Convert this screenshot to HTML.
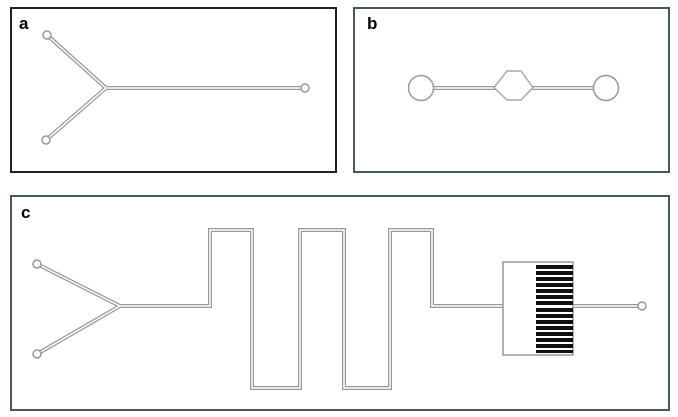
<!DOCTYPE html><html><head><style>body{margin:0;background:#fff}svg{display:block}text{font-family:"Liberation Sans",sans-serif;font-weight:bold;font-size:17px}</style></head><body>
<svg width="678" height="417" viewBox="0 0 678 417">
<rect x="11" y="8" width="325" height="164" fill="none" stroke="#222" stroke-width="2"/>
<rect x="354" y="8" width="315" height="164" fill="none" stroke="#4a5566" stroke-width="2"/>
<rect x="11" y="196" width="658" height="214" fill="none" stroke="#4a5566" stroke-width="2"/>
<text x="19" y="29">a</text><text x="367" y="29">b</text><text x="21" y="218">c</text>
<g fill="none" stroke="#999" stroke-width="4" stroke-linejoin="miter">
<path d="M47 35 L106 88 L301 88 M46 140 L106 88"/>
<path d="M432 88 L594 88"/>
<path d="M37 264 L120 306 L37 354 M120 306 L210 306 L210 230 L252 230 L252 388 L300 388 L300 230 L344 230 L344 388 L390 388 L390 230 L432 230 L432 306 L503 306 M573 306 L638 306"/>
</g>
<g fill="none" stroke="#fff" stroke-width="1.5">
<path d="M47 35 L106 88 L301 88 M46 140 L106 88"/>
<path d="M432 88 L594 88"/>
<path d="M37 264 L120 306 L37 354 M120 306 L210 306 L210 230 L252 230 L252 388 L300 388 L300 230 L344 230 L344 388 L390 388 L390 230 L432 230 L432 306 L503 306 M573 306 L638 306"/>
</g>
<path d="M494 87.5 L507 71 L521 71 L533 87.5 L521 100 L507 100 Z" fill="#fff" stroke="#aaa" stroke-width="1.5"/>
<g fill="#fff" stroke="#999" stroke-width="1.5">
<circle cx="47" cy="35" r="4"/><circle cx="46" cy="140" r="4"/><circle cx="305" cy="88" r="4"/>
<circle cx="421" cy="88" r="12.5"/><circle cx="606" cy="88" r="12.5"/>
<circle cx="37" cy="264" r="4"/><circle cx="37" cy="354" r="4"/><circle cx="642" cy="306" r="4"/>
<rect x="503" y="262" width="70" height="93"/>
</g>
<g fill="#111">
<rect x="536" y="265" width="37" height="4"/><rect x="536" y="271" width="37" height="4"/><rect x="536" y="277" width="37" height="4"/><rect x="536" y="283" width="37" height="4"/><rect x="536" y="289" width="37" height="4"/><rect x="536" y="295" width="37" height="4"/><rect x="536" y="301" width="37" height="4"/><rect x="536" y="308" width="37" height="4"/><rect x="536" y="314" width="37" height="4"/><rect x="536" y="320" width="37" height="4"/><rect x="536" y="326" width="37" height="4"/><rect x="536" y="332" width="37" height="4"/><rect x="536" y="338" width="37" height="4"/><rect x="536" y="344" width="37" height="4"/><rect x="536" y="350" width="37" height="3"/>
</g>
</svg></body></html>
